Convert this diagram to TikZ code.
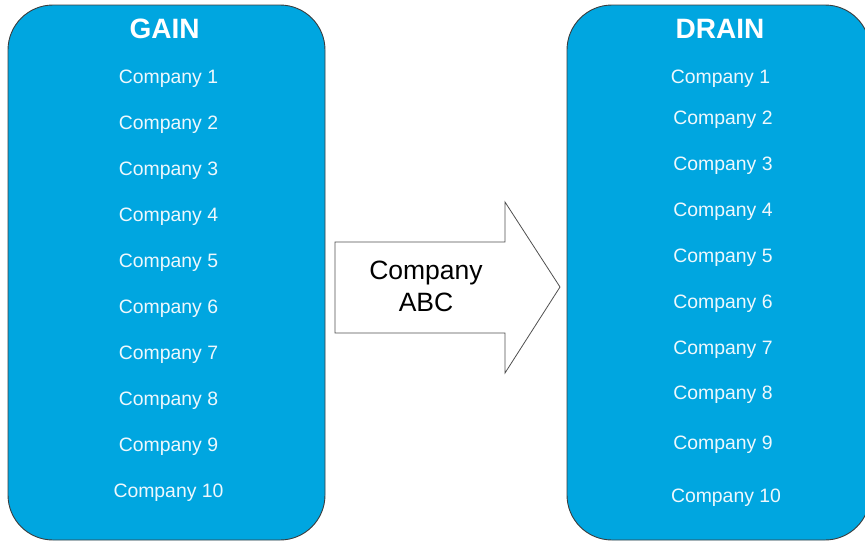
\documentclass[tikz,border=0pt]{standalone}
\usepackage{fontspec}
\setmainfont{Liberation Sans}
\definecolor{boxblue}{HTML}{00A6E0}
\definecolor{boxline}{HTML}{3C3C3C}
\definecolor{itemtext}{HTML}{EEF8FD}
\definecolor{arrowline}{HTML}{505050}
\tikzset{
  panel/.style={rectangle, draw=boxline, line width=0.9pt, fill=boxblue, rounded corners=45pt, inner sep=0pt, minimum height=535pt},
  head/.style={anchor=base, text=white, font=\fontsize{28}{32}\selectfont\bfseries},
  item/.style={anchor=base, text=itemtext, font=\fontsize{19.4}{23}\selectfont},
  flow/.style={draw=arrowline, line width=0.8pt, fill=white, line join=miter}
}

\begin{document}
\begin{tikzpicture}[x=1pt, y=-1pt]
\useasboundingbox (0,0) rectangle (865,541);
% the two panels
\node[panel, minimum width=317pt] (gain) at (166.5,272.5) {};
\node[panel, minimum width=303pt] (drain) at (718.5,272.5) {};
\node[head] (gaintitle) at (164.5,38) {GAIN};
\node[head] (draintitle) at (720,38) {DRAIN};
% left list
\node[item] (g1) at (168.5,83.5) {Company 1};
\node[item] (g2) at (168.5,129.5) {Company 2};
\node[item] (g3) at (168.5,175.5) {Company 3};
\node[item] (g4) at (168.5,221.5) {Company 4};
\node[item] (g5) at (168.5,267.5) {Company 5};
\node[item] (g6) at (168.5,313.5) {Company 6};
\node[item] (g7) at (168.5,359.5) {Company 7};
\node[item] (g8) at (168.5,405.5) {Company 8};
\node[item] (g9) at (168.5,451.5) {Company 9};
\node[item] (g10) at (168.5,497) {Company 10};
% right list
\node[item] (d1) at (720.5,83) {Company 1};
\node[item] (d2) at (723,124) {Company 2};
\node[item] (d3) at (723,170) {Company 3};
\node[item] (d4) at (723,216) {Company 4};
\node[item] (d5) at (723,262) {Company 5};
\node[item] (d6) at (723,308) {Company 6};
\node[item] (d7) at (723,354) {Company 7};
\node[item] (d8) at (723,399) {Company 8};
\node[item] (d9) at (723,449) {Company 9};
\node[item] (d10) at (726,502) {Company 10};
% big arrow
\coordinate (tail) at (335,242);
\coordinate (tip) at (560,287);
\draw[flow] (tail) -- (505,242) -- (505,202) -- (tip) -- (505,373) -- (505,333) -- (335,333) -- cycle;
\node[align=center, font=\fontsize{26.5}{32}\selectfont] (abc) at (426,286) {Company\\ABC};
\end{tikzpicture}
\end{document}
